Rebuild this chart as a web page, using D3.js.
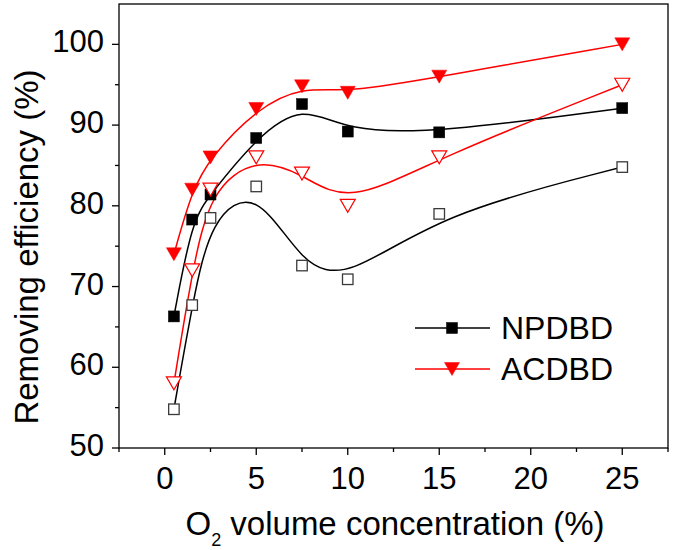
<!DOCTYPE html>
<html><head><meta charset="utf-8">
<script src="https://cdn.jsdelivr.net/npm/d3@7"></script>
<style>body{margin:0;background:#fff}text{font-family:"Liberation Sans",Arial,sans-serif;fill:#000}</style>
</head><body>
<svg id="c" width="675" height="550"></svg>
<script>
const o2 = [0.5, 1.5, 2.5, 5, 7.5, 10, 15, 25];
const npdbdFilled = [66.3, 78.3, 81.4, 88.4, 92.6, 89.2, 89.1, 92.1];
const npdbdOpen = [54.8, 67.7, 78.5, 82.4, 72.6, 70.9, 79.0, 84.8];
const acdbdFilled = [74, 82, 86, 92, 94.8, 94, 96, 100];
const acdbdOpen = [58, 72, 82, 86, 84, 80, 86, 95];
const xTicks = [0, 5, 10, 15, 20, 25];
const yTicks = [50, 60, 70, 80, 90, 100];
const legendLabels = ["NPDBD", "ACDBD"];

const L = 119, R = 668, T = 4, B = 448;
const svg = d3.select("#c");
const x = d3.scaleLinear().domain([-2.5, 27.5]).range([L, R]);
const y = d3.scaleLinear().domain([50, 105]).range([B, T]);

// frame
svg.append("rect").attr("x", L).attr("y", T).attr("width", R - L).attr("height", B - T)
  .attr("fill", "none").attr("stroke", "#000").attr("stroke-width", 1.3);

// x axis ticks
const xMinor = d3.range(-2.5, 27.6, 2.5).filter(v => v % 5 !== 0);
const gx = svg.append("g");
gx.selectAll("line.maj").data(xTicks).enter().append("line")
  .attr("x1", d => x(d)).attr("x2", d => x(d)).attr("y1", B).attr("y2", B + 7)
  .attr("stroke", "#000").attr("stroke-width", 1.3);
gx.selectAll("line.min").data(xMinor).enter().append("line")
  .attr("x1", d => x(d)).attr("x2", d => x(d)).attr("y1", B).attr("y2", B + 4)
  .attr("stroke", "#000").attr("stroke-width", 1.3);
gx.selectAll("text").data(xTicks).enter().append("text")
  .attr("x", d => x(d)).attr("y", 489).attr("text-anchor", "middle")
  .style("font-size", "31px").text(d => d);

// y axis ticks
const yMinor = d3.range(55, 105, 10);
const gy = svg.append("g");
gy.selectAll("line.maj").data(yTicks).enter().append("line")
  .attr("x1", L - 7).attr("x2", L).attr("y1", d => y(d)).attr("y2", d => y(d))
  .attr("stroke", "#000").attr("stroke-width", 1.3);
gy.selectAll("line.min").data(yMinor).enter().append("line")
  .attr("x1", L - 4).attr("x2", L).attr("y1", d => y(d)).attr("y2", d => y(d))
  .attr("stroke", "#000").attr("stroke-width", 1.3);
gy.selectAll("text").data(yTicks).enter().append("text")
  .attr("x", 104).attr("y", d => y(d) + 8).attr("text-anchor", "end")
  .style("font-size", "31px").text(d => d);

// titles
const xt = svg.append("text").attr("x", 395).attr("y", 535).attr("text-anchor", "middle")
  .style("font-size", "33px");
xt.append("tspan").text("O");
xt.append("tspan").attr("dy", 11).style("font-size", "18px").text("2");
xt.append("tspan").attr("dy", -11).text(" volume concentration (%)");

svg.append("text").attr("transform", "translate(38,247) rotate(-90)")
  .attr("text-anchor", "middle").style("font-size", "33px").text("Removing efficiency (%)");

// curves
const line = d3.line().x(d => x(d[0])).y(d => y(d[1])).curve(d3.curveBasis);
const series = [
  {vals: npdbdFilled, color: "#000", kind: "square", filled: true},
  {vals: npdbdOpen, color: "#000", kind: "square", filled: false},
  {vals: acdbdFilled, color: "#ff0000", kind: "tri", filled: true},
  {vals: acdbdOpen, color: "#ff0000", kind: "tri", filled: false}
];
const plot = svg.append("g");
series.forEach(s => {
  plot.append("path").datum(o2.map((v, i) => [v, s.vals[i]]))
    .attr("d", line).attr("fill", "none").attr("stroke", s.color).attr("stroke-width", 1.5);
});

function marker(g, kind, filled, color, cx, cy) {
  if (kind === "square") {
    const sz = filled ? 11 : 10.5;
    g.append("rect").attr("x", cx - sz / 2).attr("y", cy - sz / 2).attr("width", sz).attr("height", sz)
      .attr("fill", filled ? "#000" : "#fff").attr("stroke", filled ? "#000" : "#3a3a3a")
      .attr("stroke-width", filled ? 0.5 : 1.3);
  } else {
    const w = 15, h = 13;
    g.append("path").attr("d", `M${cx - w / 2},${cy - h / 2}L${cx + w / 2},${cy - h / 2}L${cx},${cy + h / 2}Z`)
      .attr("fill", filled ? color : "#fff").attr("stroke", color)
      .attr("stroke-width", filled ? 0.5 : 1.2);
  }
}
series.forEach(s => {
  o2.forEach((v, i) => marker(plot, s.kind, s.filled, s.color, x(v), y(s.vals[i])));
});

// legend
const leg = svg.append("g");
const legY = [328, 369];
legendLabels.forEach((lab, i) => {
  const s = series[i * 2];
  leg.append("line").attr("x1", 415).attr("x2", 490).attr("y1", legY[i]).attr("y2", legY[i])
    .attr("stroke", s.color).attr("stroke-width", 1.5);
  marker(leg, s.kind, true, s.color, 452, legY[i]);
  leg.append("text").attr("x", 501).attr("y", legY[i] + 11).style("font-size", "32px").text(lab);
});
</script>
</body></html>
